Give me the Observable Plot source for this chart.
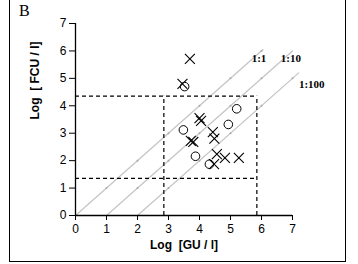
<!DOCTYPE html>
<html>
<head>
<meta charset="utf-8">
<script src="https://cdn.jsdelivr.net/npm/d3@7"></script>
<script src="https://cdn.jsdelivr.net/npm/@observablehq/plot@0.6"></script>
<style>
  body { margin: 0; background: #fff; }
  #wrap { position: relative; width: 358px; height: 264px; }
  #frame { position: absolute; left: 9px; top: 0; width: 335px; height: 261px;
           border-left: 1.5px solid #000; border-right: 1.5px solid #000; border-bottom: 1.5px solid #000; }
  #panel { position: absolute; left: 19px; top: 2px; font-family: "Liberation Serif", serif; font-size: 16px; }
  #chart { position: absolute; left: 0; top: 0; }
</style>
</head>
<body>
<div id="wrap">
  <div id="frame"></div>
  <div id="panel">B</div>
  <div id="chart"></div>
</div>
<script>
// Data
const crossX = [3.69, 3.45, 4.00, 4.05, 3.72, 3.80, 4.43, 4.48, 4.56, 4.82, 5.27, 4.47];
const crossY = [5.71, 4.80, 3.55, 3.45, 2.72, 2.68, 3.04, 2.80, 2.24, 2.10, 2.10, 1.87];
const circleX = [3.52, 5.20, 4.93, 3.48, 3.87, 4.32];
const circleY = [4.70, 3.89, 3.32, 3.12, 2.16, 1.87];

const ticks = [0, 1, 2, 3, 4, 5, 6, 7];

// ratio lines (1:1, 1:10, 1:100)
const ratioNames = ["1:1", "1:10", "1:100"];
const ratioOffsets = [0, 1, 2];
const ratioEndX = [6.05, 7, 7.2];
const ratioLabelX = [5.92, 6.95, 7.62];
const ratioLabelY = [5.72, 5.74, 4.76];

// dashed thresholds
const threshX = [2.85, 5.85];
const threshY = [1.35, 4.35];

const crosses = crossX.map((x, i) => ({x, y: crossY[i]}));
const circles = circleX.map((x, i) => ({x, y: circleY[i]}));

const lineData = [];
const lineDots = [];
ratioNames.forEach((name, i) => {
  const off = ratioOffsets[i];
  lineData.push({name, x: off, y: 0});
  lineData.push({name, x: ratioEndX[i], y: ratioEndX[i] - off});
  for (let k = off + 1; k < ratioEndX[i]; k++) lineDots.push({x: k, y: k - off});
});
const labels = ratioNames.map((t, i) => ({t, x: ratioLabelX[i], y: ratioLabelY[i]}));

const plot = Plot.plot({
  width: 358,
  height: 264,
  marginLeft: 75,
  marginRight: 66,
  marginTop: 23,
  marginBottom: 49,
  style: {fontFamily: "'Liberation Sans', Arial, sans-serif", fontSize: "12px", background: "transparent", overflow: "visible"},
  x: {domain: [0, 7]},
  y: {domain: [0, 7]},
  marks: [
    Plot.line(lineData, {x: "x", y: "y", z: "name", stroke: "#c4c4c4", strokeWidth: 1.2}),
    Plot.dot(lineDots, {x: "x", y: "y", r: 1, fill: "#aaa"}),
    Plot.ruleY(threshY, {x1: 0, x2: 5.85, stroke: "#000", strokeWidth: 1.2, strokeDasharray: "4,3"}),
    Plot.ruleX(threshX, {y1: 0, y2: 4.35, stroke: "#000", strokeWidth: 1.2, strokeDasharray: "4,3"}),
    Plot.ruleX([0], {stroke: "#000", strokeWidth: 1.3}),
    Plot.ruleY([0], {stroke: "#000", strokeWidth: 1.3}),
    Plot.axisX({ticks, tickSize: 5, tickPadding: 4, label: null, stroke: "#000", tickFormat: d3.format("d"), fill: "#000", fontSize: 12}),
    Plot.axisY({ticks, tickSize: 6, tickPadding: 3, label: null, stroke: "#000", tickFormat: d3.format("d"), fill: "#000", fontSize: 12}),
    Plot.text(["Log  [GU / l]"], {frameAnchor: "bottom", dy: 33, fontWeight: "bold", fontSize: 12, fill: "#000"}),
    Plot.text(["Log  [ FCU / l]"], {frameAnchor: "left", dx: -40, rotate: -90, fontWeight: "bold", fontSize: 12, fill: "#000"}),
    Plot.dot(circles, {x: "x", y: "y", symbol: "circle", r: 4.3, stroke: "#000", strokeWidth: 1, fill: "none"}),
    Plot.dot(crosses, {x: "x", y: "y", symbol: "times", r: 4.6, stroke: "#000", strokeWidth: 1.1}),
    Plot.text(labels, {x: "x", y: "y", text: "t", fontFamily: "'Liberation Serif', serif", fontWeight: "bold", fontSize: 11, fill: "#000"})
  ]
});
document.getElementById("chart").appendChild(plot);
</script>
</body>
</html>
